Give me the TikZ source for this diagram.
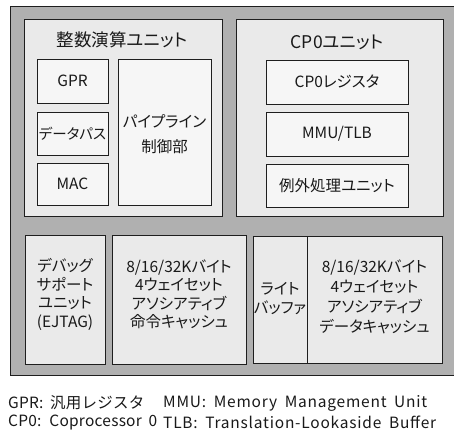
\documentclass[tikz,border=0pt]{standalone}
\usepackage{fontspec}
\setmainfont{Noto Sans CJK JP}[RawFeature=+palt]
\newfontfamily\legfont{Noto Sans CJK JP}[LetterSpace=5,WordSpace=1.8]
\newfontfamily\legfontl{Noto Sans CJK JP}[LetterSpace=1.5,WordSpace=1.8]
\definecolor{outergray}{RGB}{176,176,176}
\definecolor{unitfill}{RGB}{234,234,234}
\definecolor{subfill}{RGB}{246,246,246}
\definecolor{linecol}{RGB}{30,30,30}
\begin{document}
\begin{tikzpicture}[x=1pt,y=-1pt,
  outerbox/.style={draw=linecol,line width=1pt,fill=outergray},
  unitbox/.style={draw=linecol,line width=0.9pt,fill=unitfill},
  subbox/.style={draw=linecol,line width=0.9pt,fill=subfill},
  lbl/.style={font=\fontsize{15.5}{18.5}\selectfont,align=center,inner sep=0pt,text=black!90},
  ttl/.style={font=\fontsize{17.5}{20}\selectfont,inner sep=0pt,text=black!90},
  leg/.style={font=\legfont\fontsize{15.5}{17}\selectfont,anchor=west,inner sep=0pt,text=black!90},
  legl/.style={font=\legfontl\fontsize{15.5}{17}\selectfont,anchor=west,inner sep=0pt,text=black!90}]
\useasboundingbox (0,0) rectangle (454,430);
\fill[white] (0,0) rectangle (454,430);
% outer
\draw[outerbox] (10,7) rectangle (470,375);
% integer unit
\draw[unitbox] (24,19) rectangle (222,216);
\node[ttl] (intt) at (122,40) {整数演算ユニット};
\draw[subbox] (37,59) rectangle (108,103);
\node[lbl] (gpr) at (72.5,81) {GPR};
\draw[subbox] (37,112) rectangle (108,155);
\node[lbl,font=\fontsize{14.5}{18.5}\selectfont] (dp) at (72.5,133.5) {データパス};
\draw[subbox] (37,163) rectangle (108,205);
\node[lbl] (mac) at (72.5,184) {MAC};
\draw[subbox] (118,59) rectangle (211,205);
\node[lbl,font=\fontsize{15.5}{25}\selectfont] (pipe) at (164.5,134) {パイプライン\\制御部};
% CP0 unit
\draw[unitbox] (236,19) rectangle (443,216);
\node[ttl] (cp0t) at (337,42) {CP0ユニット};
\draw[subbox] (266,60) rectangle (408,104);
\node[lbl] (cp0r) at (337,82) {CP0レジスタ};
\draw[subbox] (266,112) rectangle (408,156);
\node[lbl] (mmu) at (337,134) {MMU/TLB};
\draw[subbox] (266,164) rectangle (408,207);
\node[lbl] (exc) at (337,185.5) {例外処理ユニット};
% bottom row
\draw[unitbox] (25,235) rectangle (105,364);
\node[lbl] (dbg) at (65,294.5) {デバッグ\\サポート\\ユニット\\(EJTAG)};
\draw[unitbox] (112,235) rectangle (246,364);
\node[lbl] (icache) at (179,294.5) {8/16/32Kバイト\\4ウェイセット\\アソシアティブ\\命令キャッシュ};
\draw[unitbox] (253,236) rectangle (307,363);
\node[lbl] (wb) at (280,298.5) {ライト\\バッファ};
\draw[unitbox] (307,236) rectangle (442,363);
\node[lbl,font=\fontsize{15.5}{20}\selectfont] (dcache) at (374.5,297) {8/16/32Kバイト\\4ウェイセット\\アソシアティブ\\データキャッシュ};
% legend
\node[legl] (l1) at (8,403) {GPR: 汎用レジスタ};
\node[legl] (l2) at (8,422) {CP0: Coprocessor 0};
\node[leg] (l3) at (163,403) {MMU: Memory Management Unit};
\node[leg] (l4) at (163,422) {TLB: Translation-Lookaside Buffer};
\end{tikzpicture}
\end{document}
